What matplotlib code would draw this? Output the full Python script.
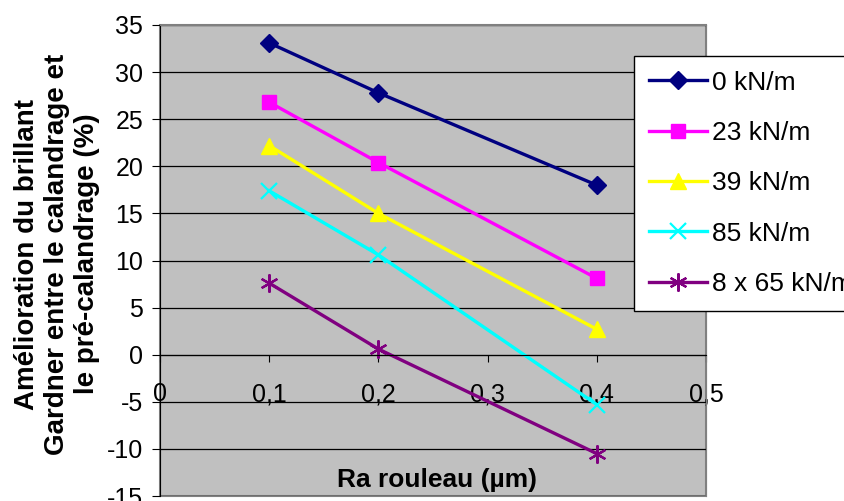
import numpy as np
import matplotlib.pyplot as plt
from matplotlib.patches import Rectangle

plt.rcParams['font.family'] = ['Liberation Sans', 'DejaVu Sans']
plt.rcParams['axes.unicode_minus'] = False

# donnees
ra = [0.1, 0.2, 0.4]
s0 = [33.1, 27.8, 18.0]
s23 = [26.8, 20.4, 8.1]
s39 = [22.2, 15.0, 2.7]
s85 = [17.4, 10.6, -5.3]
s865 = [7.6, 0.6, -10.5]
noms = ['0 kN/m', '23 kN/m', '39 kN/m', '85 kN/m', '8 x 65 kN/m']
xticks = [0, 0.1, 0.2, 0.3, 0.4, 0.5]
xlabels = ['0', '0,1', '0,2', '0,3', '0,4', '0,5']
yticks = list(range(-15, 36, 5))

fig = plt.figure(figsize=(8.45, 5.01), dpi=100)
ax = fig.add_axes([160/845, 5/501, 546/845, 471/501])
ax.set_facecolor('#c0c0c0')

ax.plot(ra, s0, color='#000080', lw=2.4, marker='D', ms=9, label=noms[0])
ax.plot(ra, s23, color='#ff00ff', lw=2.4, marker='s', ms=10, label=noms[1])
ax.plot(ra, s39, color='#ffff00', lw=2.4, marker='^', ms=12, label=noms[2])
ax.plot(ra, s85, color='#00ffff', lw=2.4, marker='x', ms=11, mew=1.6, label=noms[3])
ax.plot(ra, s865, color='#800080', lw=2.4, marker=(6, 2, 0), ms=13, mew=1.6, label=noms[4])

ax.set_xlim(0, 0.5)
ax.set_ylim(-15, 35)
ax.set_yticks(yticks)
ax.set_xticks(xticks)
ax.set_xticklabels(xlabels)
ax.yaxis.grid(True, color='black', lw=0.9)
ax.set_axisbelow(True)

ax.spines['bottom'].set_position(('data', 0))
ax.spines['bottom'].set_color('black')
ax.spines['left'].set_color('black')
ax.spines['top'].set_color('#808080')
ax.spines['right'].set_color('#808080')
ax.add_patch(Rectangle((0, 0), 1, 1, transform=ax.transAxes, fill=False,
                       edgecolor='#808080', lw=1.5, clip_on=False, zorder=0.5))

ax.tick_params(axis='y', direction='out', length=6, pad=6, labelsize=18)
ax.tick_params(axis='x', direction='out', length=5, pad=15, labelsize=18)

fig.text(437/845, 1 - 480/501, 'Ra rouleau (µm)', fontsize=19, fontweight='bold',
         ha='center', va='center')
fig.text(57/845, 1 - 254/501,
         'Amélioration du brillant\nGardner entre le calandrage et\nle pré-calandrage (%)',
         fontsize=20, fontweight='bold', rotation=90, ha='center', va='center',
         multialignment='center', linespacing=1.2)

leg = ax.legend(loc='upper left', bbox_to_anchor=(634/845, 1 - 56/501),
                bbox_transform=fig.transFigure, fontsize=19, frameon=True,
                fancybox=False, edgecolor='black', framealpha=1,
                borderaxespad=0, handlelength=2.2, handletextpad=0.2,
                labelspacing=1.0, borderpad=0.55)
leg.get_frame().set_linewidth(1.0)

fig.savefig('out.png', dpi=100)
